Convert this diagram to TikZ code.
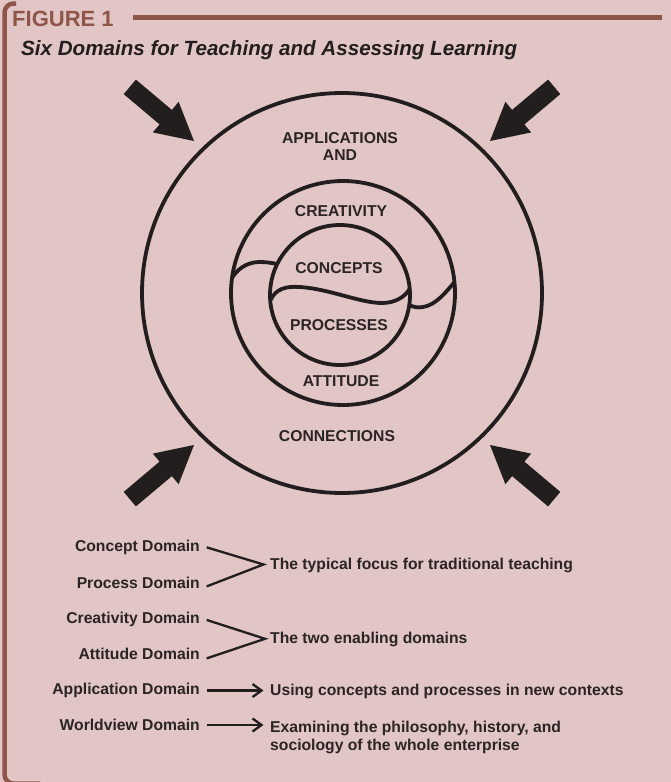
\documentclass[tikz,border=0pt]{standalone}
\usepackage{fontspec}
\setmainfont{Liberation Sans}
\usetikzlibrary{arrows.meta}
\definecolor{bg}{HTML}{E2C5C5}
\definecolor{brown}{HTML}{8E5548}
\definecolor{ink}{HTML}{221E1D}
\definecolor{txt}{HTML}{2A2424}
\tikzset{
  lbl/.style={font=\fontsize{15.7}{17.7}\selectfont\bfseries, text=txt, inner sep=0pt},
  ring/.style={draw=ink, line width=3.8pt, circle, inner sep=0pt},
  wave/.style={draw=ink, line width=3.8pt, line cap=round},
  brace/.style={draw=ink, line width=2.3pt, line join=miter},
  legarrow/.style={draw=ink, line width=2.3pt, -{Straight Barb[length=9pt,width=13pt,line width=2.3pt]}},
  frameline/.style={draw=brown, line width=4.5pt}
}
\begin{document}
\begin{tikzpicture}[x=1pt,y=-1pt]
\useasboundingbox (0,0) rectangle (671,782);
\fill[bg] (0,0) rectangle (671,782);
\begin{scope}
\clip (0,0) rectangle (671,782);
\draw[frameline, rounded corners=9pt] (16,3.5) -- (4.5,3.5) -- (4.5,783.5) -- (40,783.5);
\end{scope}
% header
\node[anchor=base west, inner sep=0pt, text=brown, font=\fontsize{22}{24}\selectfont\bfseries] (fig) at (12,26.7) {FIGURE 1};
\coordinate (lineend) at (662,17.5);
\draw[frameline, line width=5pt] ([xshift=19pt]fig.east |- lineend) -- (lineend);
\node[anchor=base west, inner sep=0pt, text=ink, font=\fontsize{20.6}{22}\selectfont\bfseries\itshape] (title) at (21,55) {Six Domains for Teaching and Assessing Learning};
% circles
\node[ring, minimum size=400pt] (outer) at (342,293) {};
\node[ring, minimum size=224pt] (middle) at (343,293) {};
\node[ring, minimum size=140pt] (inner) at (340,295) {};
% waves
\draw[wave] (232.5,277) .. controls (240,266) and (250,262) .. (260,262) .. controls (267,262) and (272,263) .. (277,264);
\draw[wave] (270.5,300) .. controls (276,289) and (285,286) .. (300,287) .. controls (330,289) and (360,303) .. (382,303) .. controls (395,303) and (405,297) .. (409.5,289);
\draw[wave] (409.5,305) .. controls (413,307) and (418,308) .. (423,307) .. controls (436,305) and (446,292) .. (454.5,282);
% circle labels
\node[lbl, anchor=base] (appl) at (340,143.3) {APPLICATIONS};
\node[lbl, anchor=base] (and) at (340,160.6) {AND};
\node[lbl, anchor=base] (crea) at (341,216.6) {CREATIVITY};
\node[lbl, anchor=base] (conc) at (339,273.6) {CONCEPTS};
\node[lbl, anchor=base] (proc) at (339,330) {PROCESSES};
\node[lbl, anchor=base] (atti) at (341,386.6) {ATTITUDE};
\node[lbl, anchor=base] (conn) at (337,441.6) {CONNECTIONS};
% big arrows
\begin{scope}[shift={(342,293)}]
\foreach \sx/\sy in {1/1,-1/1,1/-1,-1/-1}{
  \fill[ink, xscale=\sx, yscale=\sy] (-148,-152) -- (-163.4,-191.2) -- (-170.1,-183.1) -- (-206.1,-213.4) -- (-218.3,-198.9) -- (-182.4,-168.6) -- (-189.2,-160.6) -- cycle;
}
\end{scope}
% legend
\node[lbl, anchor=base east] (cd) at (200,551.4) {Concept Domain};
\node[lbl, anchor=base east] (pd) at (200,588) {Process Domain};
\node[lbl, anchor=base west] (t1) at (270,569) {The typical focus for traditional teaching};
\draw[brace] ([xshift=6.7pt,yshift=0pt]cd.east) -- ([xshift=-6.5pt,yshift=0.5pt]t1.west) -- ([xshift=6.7pt,yshift=-4pt]pd.east);
\node[lbl, anchor=base east] (crd) at (200,623) {Creativity Domain};
\node[lbl, anchor=base east] (ad) at (200,659) {Attitude Domain};
\node[lbl, anchor=base west] (t2) at (270,643.3) {The two enabling domains};
\draw[brace] ([xshift=6.7pt,yshift=-1pt]crd.east) -- ([xshift=-5pt,yshift=0.5pt]t2.west) -- ([xshift=6.7pt,yshift=-5pt]ad.east);
\node[lbl, anchor=base east] (apd) at (200,694.6) {Application Domain};
\node[lbl, anchor=base west] (t3) at (270,695.6) {Using concepts and processes in new contexts};
\draw[legarrow] ([xshift=6.7pt]apd.east) -- ([xshift=-6.5pt]apd.east -| t3.west);
\node[lbl, anchor=base east] (wd) at (200,730.6) {Worldview Domain};
\node[lbl, anchor=north west, align=left] (t4) at (270,720.8) {Examining the philosophy, history, and\\sociology of the whole enterprise};
\draw[legarrow] ([xshift=6.7pt]wd.east) -- ([xshift=-6.5pt]wd.east -| t4.west);
\end{tikzpicture}
\end{document}
